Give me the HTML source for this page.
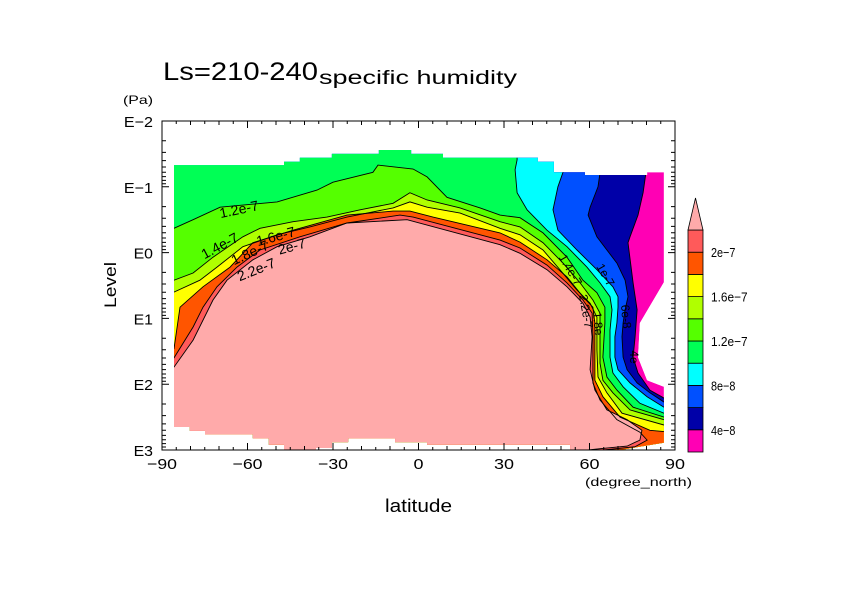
<!DOCTYPE html>
<html><head><meta charset="utf-8"><style>
body{margin:0;background:#fff;}
svg{display:block;font-family:"Liberation Sans",sans-serif;}
</style></head><body>
<svg id="chart" width="842" height="595" viewBox="0 0 842 595" xmlns="http://www.w3.org/2000/svg">
<rect width="842" height="595" fill="#fff"/>
<text x="163" y="80" font-size="25" textLength="155" lengthAdjust="spacingAndGlyphs">Ls=210-240</text>
<text x="319" y="84" font-size="19" textLength="198" lengthAdjust="spacingAndGlyphs">specific humidity</text>
<text x="123" y="104" font-size="12" textLength="30" lengthAdjust="spacingAndGlyphs">(Pa)</text>
<text x="0" y="0" font-size="17" text-anchor="middle" textLength="46" lengthAdjust="spacingAndGlyphs" transform="translate(116,285) rotate(-90)">Level</text>
<text x="385" y="512" font-size="18" textLength="67" lengthAdjust="spacingAndGlyphs">latitude</text>
<text x="585" y="486" font-size="12" textLength="107" lengthAdjust="spacingAndGlyphs">(degree_north)</text>
<defs><clipPath id="dom"><path id="domPath"/></clipPath></defs>
<g id="fills" clip-path="url(#dom)"></g>
<g id="lines" clip-path="url(#dom)"></g>
<g id="labels" font-size="14" fill="#000">
<text transform="translate(240,214) rotate(-12)" text-anchor="middle">1.2e-7</text>
<text transform="translate(222,250) rotate(-28)" text-anchor="middle">1.4e-7</text>
<text transform="translate(277,241) rotate(-15)" text-anchor="middle">1.6e-7</text>
<text transform="translate(252,257) rotate(-25)" text-anchor="middle">1.8e-7</text>
<text transform="translate(293,251) rotate(-15)" text-anchor="middle">2e-7</text>
<text transform="translate(258,274) rotate(-22)" text-anchor="middle">2.2e-7</text>
<text transform="translate(567,272) rotate(60)" text-anchor="middle" font-size="12">1.4e-7</text>
<text transform="translate(602,277) rotate(60)" text-anchor="middle" font-size="12">1e-7</text>
<text transform="translate(582,312) rotate(80)" text-anchor="middle" font-size="12">2.2e-7</text>
<text transform="translate(594,324) rotate(85)" text-anchor="middle" font-size="12">1.8e</text>
<text transform="translate(622,317) rotate(85)" text-anchor="middle" font-size="12">6e-8</text>
<text transform="translate(630,357) rotate(90)" text-anchor="middle" font-size="12">4e</text>
</g>
<g id="axes"></g>
<g id="cbar"></g>
<script>
// ---- data ----
var levels = [4e-8, 6e-8, 8e-8, 1e-7, 1.2e-7, 1.4e-7, 1.6e-7, 1.8e-7, 2e-7, 2.2e-7];
var colors = ["#ff00b4","#0000a8","#0050ff","#00ffff","#00ff55","#55ff00","#b0ff00","#ffff00","#ff5500","#ff5a5a","#ffaaaa"];
var cbarLabels = ["4e-8","8e-8","1.2e-7","1.6e-7","2e-7"];
var cbarLabelValues = [4e-8, 8e-8, 1.2e-7, 1.6e-7, 2e-7];
var xTicks = [-90,-60,-30,0,30,60,90];
var yTickExp = [-2,-1,0,1,2,3];
var yTickLabels = ["E-2","E-1","E0","E1","E2","E3"];
// data domain outline [lat, log10(p)]
var domain = [[-85.8,-1.33],[-47.2,-1.33],[-47.2,-1.38],[-41.6,-1.38],[-41.6,-1.44],[-30.4,-1.44],[-30.4,-1.5],[-13.9,-1.5],[-13.9,-1.56],[-2.6,-1.56],[-2.6,-1.5],[8.6,-1.5],[8.6,-1.44],[41.9,-1.44],[41.9,-1.38],[47.5,-1.38],[47.5,-1.22],[58.4,-1.22],[58.4,-1.18],[80.2,-1.18],[80.2,-1.22],[86.1,-1.22],[86.1,0.45],[77.7,1.07],[77.0,1.59],[80.2,1.94],[86.1,2.04],[86.1,2.89],[70.7,3.0],[53.2,3.0],[53.2,2.92],[3.0,2.92],[3.0,2.88],[-8.2,2.88],[-8.2,2.82],[-24.7,2.82],[-24.7,2.88],[-30.4,2.88],[-30.4,2.97],[-36.0,2.97],[-36.0,3.0],[-47.2,3.0],[-47.2,2.92],[-52.5,2.92],[-52.5,2.82],[-58.1,2.82],[-58.1,2.76],[-74.9,2.76],[-74.9,2.71],[-80.2,2.71],[-80.2,2.65],[-85.8,2.65]];
// contour lines [lat, log10(p)]
var c4 = [[79.8,-2],[79.8,-1.21],[78.8,-0.91],[77.0,-0.57],[74.2,-0.24],[73.5,-0.15],[75.3,0.46],[76.7,0.87],[76.0,1.28],[75.3,1.59],[77.0,1.83],[81.2,2.09],[86.1,2.21],[95,2.21]];
var c6 = [[63.7,-2],[63.7,-1.21],[63.0,-1.0],[60.2,-0.69],[59.5,-0.57],[62.6,-0.24],[66.1,-0.04],[69.6,0.16],[72.5,0.42],[73.5,0.67],[72.5,0.87],[71.8,1.07],[71.4,1.28],[71.8,1.59],[73.2,1.78],[76.7,1.98],[81.2,2.13],[86.1,2.27],[95,2.27]];
var c8 = [[50.7,-2],[50.7,-1.22],[48.9,-1.0],[47.2,-0.65],[48.9,-0.34],[55.6,-0.04],[62.6,0.26],[68.2,0.52],[70.0,0.67],[70.0,0.83],[69.6,1.07],[68.9,1.28],[68.9,1.59],[70.0,1.78],[74.2,1.98],[80.2,2.19],[86.1,2.35],[95,2.35]];
var c10 = [[34.6,-2],[34.6,-1.41],[33.9,-1.26],[34.6,-0.91],[38.1,-0.65],[45.1,-0.34],[52.1,-0.09],[59.1,0.22],[63.7,0.46],[67.2,0.67],[67.9,0.87],[67.2,1.18],[67.2,1.59],[68.2,1.83],[71.8,2.04],[77.7,2.29],[86.1,2.44],[95,2.44]];
var c12 = [[-95,-0.37],[-85.8,-0.37],[-79.1,-0.5],[-69.6,-0.69],[-49.6,-0.77],[-35.6,-0.95],[-30.0,-1.07],[-16.0,-1.22],[-14.2,-1.33],[-1.9,-1.27],[3.0,-1.15],[10.0,-0.84],[21.6,-0.68],[28.6,-0.57],[35.6,-0.53],[43.7,-0.3],[52.1,0.07],[57.7,0.42],[62.6,0.61],[65.4,0.83],[65.4,1.07],[64.7,1.59],[66.1,1.89],[69.6,2.09],[75.3,2.35],[86.1,2.5],[95,2.5]];
var c14 = [[-95,0.42],[-85.8,0.42],[-79.1,0.31],[-72.1,0.07],[-61.6,-0.24],[-55.6,-0.37],[-44.0,-0.47],[-32.1,-0.54],[-20.5,-0.65],[-8.9,-0.75],[-3.0,-0.91],[3.0,-0.8],[14.6,-0.68],[28.6,-0.47],[35.6,-0.39],[43.7,-0.15],[50.7,0.16],[56.7,0.46],[61.2,0.72],[63.7,0.92],[63.7,1.28],[63.7,1.68],[64.7,1.94],[68.2,2.13],[74.2,2.39],[86.1,2.54],[95,2.54]];
var c16 = [[-95,0.6],[-85.8,0.6],[-76.7,0.42],[-70.7,0.22],[-61.6,-0.09],[-49.6,-0.27],[-38.1,-0.39],[-25.1,-0.54],[-8.9,-0.68],[-3.0,-0.77],[3.0,-0.69],[14.6,-0.6],[28.6,-0.37],[35.6,-0.27],[43.7,-0.04],[49.6,0.26],[55.6,0.57],[60.2,0.77],[62.6,0.98],[62.6,1.48],[63.0,1.89],[66.1,2.13],[71.4,2.44],[86.1,2.62],[95,2.62]];
var c18 = [[-95,1.46],[-85.8,1.46],[-83.7,0.83],[-75.6,0.52],[-66.1,0.22],[-58.1,-0.15],[-44.0,-0.34],[-25.1,-0.57],[-8.9,-0.63],[-3.0,-0.63],[5.1,-0.54],[28.6,-0.3],[35.6,-0.16],[45.1,0.11],[52.1,0.37],[57.7,0.67],[61.2,0.83],[61.9,1.07],[61.9,1.48],[61.9,1.94],[64.7,2.19],[70.7,2.5],[81.2,2.7],[86.1,2.72],[95,2.72]];
var c20 = [[-95,1.6],[-85.8,1.6],[-79.1,1.13],[-75.6,0.83],[-70.7,0.52],[-63.7,0.22],[-55.6,-0.04],[-41.6,-0.24],[-25.1,-0.45],[-6.5,-0.57],[-1.9,-0.54],[28.6,-0.19],[35.6,-0.07],[45.1,0.19],[52.1,0.46],[57.7,0.72],[60.9,0.92],[61.2,1.28],[61.2,1.98],[63.7,2.24],[69.6,2.54],[77.7,2.73],[80.2,2.85],[76,2.95],[65,3.0],[55,3.03]];
var c22 = [[-95,1.74],[-85.8,1.74],[-79.1,1.33],[-72.1,0.72],[-67.2,0.42],[-58.1,0.11],[-49.6,-0.09],[-38.1,-0.24],[-25.1,-0.45],[-4.0,-0.5],[28.6,-0.12],[35.6,0.01],[45.1,0.26],[52.1,0.52],[57.7,0.77],[60.2,0.98],[60.9,1.28],[60.2,1.78],[61.9,2.09],[66.1,2.39],[73.2,2.54],[78.4,2.7],[77.7,2.85],[73.2,2.94],[63.7,2.98],[55,3.02]];
var contours = [c4, c6, c8, c10, c12, c14, c16, c18, c20, c22];

// ---- axes ----
var X0 = 162, X1 = 675, Y0 = 121, Y1 = 450;
function xs(lat){ return X0 + (lat + 90) / 180 * (X1 - X0); }
function ys(e){ return Y0 + (e + 2) / 5 * (Y1 - Y0); }
var NS = "http://www.w3.org/2000/svg";
function mk(tag, attrs, parent){ var el = document.createElementNS(NS, tag); for (var k in attrs) el.setAttribute(k, attrs[k]); parent.appendChild(el); return el; }
function pathOf(pts){ return pts.map(function(p,i){ return (i ? "L" : "M") + xs(p[0]).toFixed(1) + "," + ys(p[1]).toFixed(1); }).join(""); }

document.getElementById("domPath").setAttribute("d", pathOf(domain) + "Z");
var fills = document.getElementById("fills"), lines = document.getElementById("lines");
var bg = mk("path", {d: pathOf(domain) + "Z", fill: colors[0]}, fills);


contours.forEach(function(c, i){
  var last = c[c.length - 1], first = c[0];
  var poly = c.concat([[last[0], 3.5], [-100, 3.5], [-100, first[1]]]);
  var f = mk("path", {d: pathOf(poly) + "Z", fill: colors[i + 1]}, fills);
  
  
});
contours.forEach(function(c, i){
  var l = mk("path", {d: pathOf(c), fill: "none", stroke: "#000", "stroke-width": 0.9}, lines);
  
  
});

var ax = document.getElementById("axes");
var frame = mk("rect", {x: X0, y: Y0, width: X1 - X0, height: Y1 - Y0, fill: "none", stroke: "#000", "stroke-width": 1}, ax);


var tk = "";
for (var lat = -90; lat <= 90; lat += 5) {
  var len = (lat % 30 === 0) ? 7 : (lat % 10 === 0 ? 4 : 3);
  var x = xs(lat);
  tk += "M" + x + "," + Y1 + "v" + (-len) + "M" + x + "," + Y0 + "v" + len;
}
for (var d = -2; d < 3; d++) {
  for (var m = 1; m <= 9; m++) {
    var yy = ys(d + Math.log10(m));
    var ln = (m === 1) ? 7 : 4;
    tk += "M" + X0 + "," + yy + "h" + ln + "M" + X1 + "," + yy + "h" + (-ln);
  }
}
var ticks = mk("path", {d: tk, stroke: "#000", "stroke-width": 1, fill: "none"}, ax);


xTicks.forEach(function(v){
  var s = (v < 0 ? "\u2212" + (-v) : String(v));
  var t = mk("text", {x: xs(v), y: 469, "font-size": 15, "text-anchor": "middle", textLength: s.length * 10, lengthAdjust: "spacingAndGlyphs"}, ax);
  t.textContent = s;
  
  
});
yTickExp.forEach(function(v, i){
  var s = yTickLabels[i].replace("-", "\u2212");
  var t = mk("text", {x: 153, y: ys(v) + 6, "font-size": 15, "text-anchor": "end", textLength: s.length * 9.7, lengthAdjust: "spacingAndGlyphs"}, ax);
  t.textContent = s;
  
  
});

// ---- colorbar ----
var cb = document.getElementById("cbar");
var CB0 = 452, CBH = 22.2, CBX = 688, CBW = 15;
function cy(v){ return CB0 - (v - levels[0]) / (levels[1] - levels[0]) * CBH - CBH; }
for (var i = 0; i < levels.length; i++) {
  var r = mk("rect", {x: CBX, y: CB0 - (i + 1) * CBH, width: CBW, height: CBH, fill: colors[i], stroke: "#000", "stroke-width": 0.8}, cb);
  
  
}
var topY = CB0 - levels.length * CBH;
var tri = mk("path", {d: "M" + CBX + "," + topY + "L" + (CBX + CBW / 2) + "," + (topY - 32) + "L" + (CBX + CBW) + "," + topY + "Z", fill: colors[10], stroke: "#000", "stroke-width": 0.8}, cb);


cbarLabelValues.forEach(function(v, i){
  var s = cbarLabels[i].replace("-", "\u2212");
  var t = mk("text", {x: 711, y: cy(v) + 5, "font-size": 13, textLength: s.length * 6.1, lengthAdjust: "spacingAndGlyphs"}, cb);
  t.textContent = s;
  
  
});
</script>
</svg>
</body></html>
